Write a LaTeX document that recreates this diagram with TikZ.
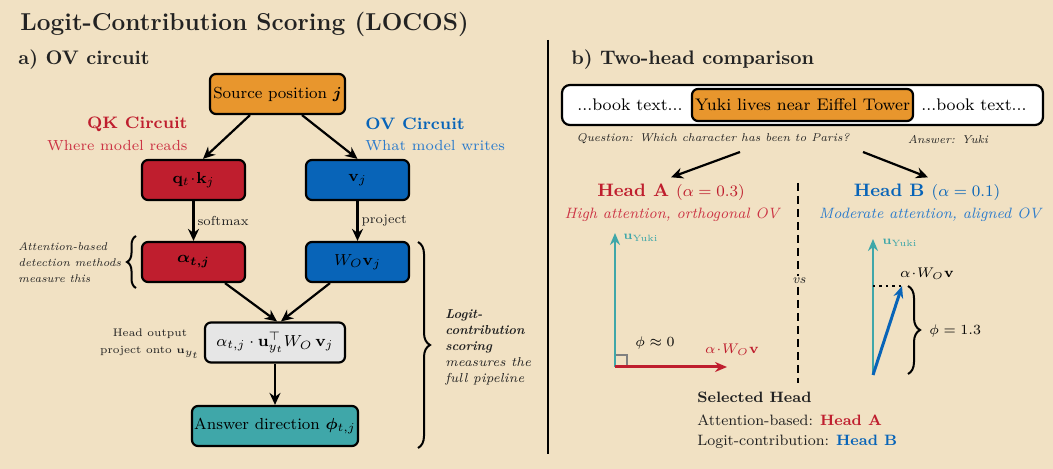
\documentclass[tikz,border=0pt]{standalone}
\usepackage{amsmath,amssymb,bm}
\usepackage{xcolor}
\definecolor{locbg}{HTML}{F1E1C3}
\definecolor{locink}{HTML}{222222}
\definecolor{locred}{HTML}{BF1E2E}
\definecolor{locredlt}{HTML}{CC3344}
\definecolor{locblue}{HTML}{0864B8}
\definecolor{locbluelt}{HTML}{2B7BCC}
\definecolor{locteal}{HTML}{3FA7A9}
\definecolor{locorange}{HTML}{E8962D}
\definecolor{locgray}{HTML}{E6E6E6}
\usepackage{tikz}
\usetikzlibrary{arrows.meta,positioning,decorations.pathreplacing,calc}

\newcommand{\fs}[1]{\fontsize{#1}{1.2\dimexpr #1pt\relax}\selectfont}

\begin{document}
\begin{tikzpicture}[x=0.5pt,y=-0.5pt,
  stage/.style={draw=black,line width=1.1pt,rounded corners=3pt,inner sep=0pt,
    minimum height=20pt,font=\fs{8}},
  flow/.style={-{Stealth[length=6pt,width=5.5pt]},line width=1.1pt},
  vec/.style={-{Stealth[length=6pt,width=5pt]},line width=1.3pt},
  note/.style={font=\fontsize{#1}{8pt}\selectfont\itshape,text=locink,align=left,inner sep=0pt},
  note/.default=6.5,
  brc/.style={decorate,decoration={brace,amplitude=#1},line width=1pt},
  brc/.default=5pt]
% canvas
\fill[locbg] (0,0) rectangle (1053,469);
\node[anchor=base west,inner sep=0pt,font=\fs{12.2}\bfseries,text=locink] (title) at (20,31)
  {Logit-Contribution Scoring (LOCOS)};
\node[anchor=base west,inner sep=0pt,font=\fs{9.8}\bfseries,text=locink] (parta) at (18,65) {a) OV circuit};
\node[anchor=base west,inner sep=0pt,font=\fs{9.8}\bfseries,text=locink] (partb) at (571,65) {b) Two-head comparison};
\draw[line width=1pt] (548,40) -- (548,454);

%% a) OV circuit
\node[stage,fill=locorange,minimum width=67.5pt] (src) at (277.5,94) {Source position $\boldsymbol{j}$};
\node[stage,fill=locred,minimum width=51.5pt] (qk) at (193.5,180) {$\mathbf{q}_t\!\cdot\!\mathbf{k}_j$};
\node[stage,fill=locblue,minimum width=51.5pt] (vj) at (357.5,180) {$\mathbf{v}_j$};
\node[stage,fill=locred,minimum width=51.5pt] (alpha) at (193.5,262) {$\boldsymbol{\alpha_{t,j}}$};
\node[stage,fill=locblue,minimum width=51.5pt] (wov) at (357.5,262) {$W_O\mathbf{v}_j$};
\node[stage,fill=locgray,minimum width=70pt] (out) at (275,342.5)
  {$\alpha_{t,j}\cdot\mathbf{u}_{y_t}^{\top}W_O\,\mathbf{v}_j$};
\node[stage,fill=locteal,minimum width=83pt] (ans) at (275,426) {Answer direction $\boldsymbol{\phi}_{t,j}$};

\node[anchor=east,font=\fs{8.3}\bfseries,text=locred,inner sep=0pt] (qklab) at (188,124) {QK Circuit};
\node[anchor=east,font=\fs{7.3},text=locredlt,inner sep=0pt] (qksub) at (188,146) {Where model reads};
\node[anchor=west,font=\fs{8.3}\bfseries,text=locblue,inner sep=0pt] (ovlab) at (365,124) {OV Circuit};
\node[anchor=west,font=\fs{7.3},text=locbluelt,inner sep=0pt] (ovsub) at (365,146) {What model writes};

\draw[flow] ([xshift=-13.75pt]src.south) -- ([xshift=4.75pt]qk.north);
\draw[flow] ([xshift=12.25pt]src.south) -- (vj.north);
\draw[flow] (qk) -- node[right,font=\fs{6.5},text=locink,inner sep=1.5pt] {softmax} (alpha);
\draw[flow] (vj) -- node[right,font=\fs{6.5},text=locink,inner sep=1.5pt] {project} (wov);
\draw[flow] ([xshift=15.75pt]alpha.south) -- ([xshift=1pt]out.north);
\draw[flow] ([xshift=-13.75pt]wov.south) -- ([xshift=3pt]out.north);
\draw[flow] (out) -- (ans);

\node[note=5.6,anchor=west] (attn) at (18,263) {Attention-based\\detection methods\\measure this};
\draw[brc=4.5pt] (136,288) -- (136,236);
\node[align=center,font=\fontsize{5.5}{8.5pt}\selectfont,text=locink,inner sep=0pt] (proj) at (150,344)
  {Head output\\project onto $\mathbf{u}_{y_t}$};
\draw[brc=6pt] (418,242) -- (418,448);
\node[note,anchor=west] (logit) at (445,347)
  {\bfseries Logit-\\\bfseries contribution\\\bfseries scoring\\measures the\\full pipeline};

%% b) two-head comparison
\node[draw=black,line width=1.1pt,fill=white,rounded corners=4pt,minimum width=240.5pt,
  minimum height=20pt] (ctx) at (802.5,105) {};
\node[draw=black,line width=1.1pt,fill=locorange,rounded corners=3pt,minimum width=110.5pt,
  minimum height=16pt,inner sep=0pt,font=\fs{8.4}] (fact) at (802.5,105) {Yuki lives near Eiffel Tower};
\node[font=\fs{8.4},inner sep=0pt] (bookl) at (630,105) {...book text...};
\node[font=\fs{8.4},inner sep=0pt] (bookr) at (974,105) {...book text...};
\node[note=5.7] (quest) at (713,139) {Question: Which character has been to Paris?};
\node[note=5.7] (answ) at (948,139) {Answer: Yuki};

\node[text=locred,inner sep=0pt] (headA) at (671,192)
  {\fs{9}\bfseries Head A {\fs{8}\mdseries($\alpha=0.3$)}};
\node[text=locredlt,font=\fs{7.5}\itshape,inner sep=0pt] (subA) at (672,215) {High attention, orthogonal OV};
\node[text=locblue,inner sep=0pt] (headB) at (927,192)
  {\fs{9}\bfseries Head B {\fs{8}\mdseries($\alpha=0.1$)}};
\node[text=locbluelt,font=\fs{7.5}\itshape,inner sep=0pt] (subB) at (930,215) {Moderate attention, aligned OV};

\coordinate (splitA) at (740,152);
\coordinate (splitB) at (863,152);
\draw[flow] (splitA) -- ([yshift=3pt]headA.north);
\draw[flow] (splitB) -- ([xshift=0.5pt,yshift=3pt]headB.north);

\draw[line width=1.1pt,dash pattern=on 4pt off 2.5pt] (798,183) -- (798,383);
\node[fill=locbg,inner sep=1pt,font=\fs{6.5}\itshape,text=locink] (vs) at (799,281) {vs};

% head A: orthogonal write direction
\coordinate (oA) at (615,367);
\coordinate (uA) at (615,233);
\coordinate (wA) at (727,367);
\draw[gray,line width=0.9pt] (615,355) -| (627,367);
\draw[vec,locteal] (oA) -- (uA);
\draw[vec,locred,line width=1.5pt] (oA) -- (wA);
\node[anchor=west,text=locteal,font=\fs{6.5},inner sep=0pt] (uAlab) at (623,238) {$\mathbf{u}_{\text{Yuki}}$};
\node[font=\fs{7.5},inner sep=0pt] (phiA) at (655,343) {$\phi\approx 0$};
\node[text=locred,font=\fs{7.5},inner sep=0pt] (wAlab) at (732,350) {$\alpha\!\cdot\! W_O\mathbf{v}$};

% head B: aligned write direction
\coordinate (oB) at (873,375);
\coordinate (uB) at (873,239);
\coordinate (wB) at (902,286);
\draw[vec,locteal] (oB) -- (uB);
\draw[line width=1.2pt,dotted] (873,286) -- (wB);
\draw[vec,locblue,line width=1.5pt] (oB) -- (wB);
\node[anchor=west,text=locteal,font=\fs{6.5},inner sep=0pt] (uBlab) at (882,243) {$\mathbf{u}_{\text{Yuki}}$};
\node[font=\fs{7.5},inner sep=0pt] (wBlab) at (927,274) {$\alpha\!\cdot\! W_O\mathbf{v}$};
\draw[brc=6pt] (908,286) -- (908,374);
\node[anchor=west,font=\fs{7.5},inner sep=0pt] (phiB) at (929,331) {$\phi=1.3$};

\node[anchor=base west,font=\fs{7.5}\bfseries,text=locink,inner sep=0pt] (sel) at (697,403) {Selected Head};
\node[anchor=base west,font=\fs{7.5},text=locink,inner sep=0pt] (selA) at (697,425)
  {Attention-based: \textcolor{locred}{\bfseries Head A}};
\node[anchor=base west,font=\fs{7.5},text=locink,inner sep=0pt] (selB) at (697,445)
  {Logit-contribution: \textcolor{locblue}{\bfseries Head B}};
\end{tikzpicture}
\end{document}
